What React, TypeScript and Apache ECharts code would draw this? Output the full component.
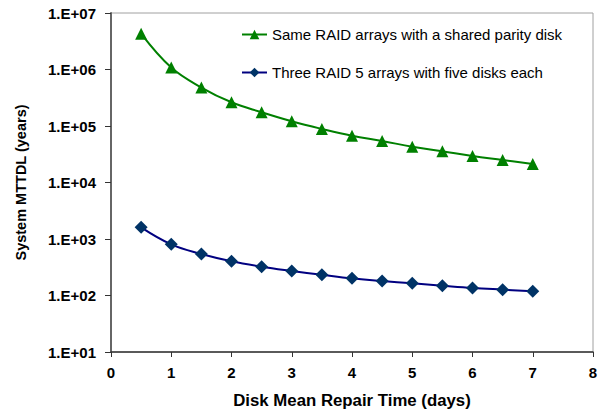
import React, { useEffect, useRef } from "react";
import * as echarts from "echarts";

const repairDays = [0.5, 1, 1.5, 2, 2.5, 3, 3.5, 4, 4.5, 5, 5.5, 6, 6.5, 7];
const sharedParity = [4300000, 1080000, 480000, 263000, 175000, 121000, 88500, 67000, 54300, 43000, 35700, 29400, 25000, 21200];
const threeRaid5 = [1610, 805, 543, 403, 323, 272, 233, 201, 181, 164, 149, 136, 127, 119];
const seriesNames = ["Same RAID arrays with a shared parity disk", "Three RAID 5 arrays with five disks each"];
const xTitle = "Disk Mean Repair Time (days)";
const yTitle = "System MTTDL (years)";

const FONT = "'Liberation Sans', Arial, sans-serif";

export default function App() {
  const ref = useRef<HTMLDivElement>(null);
  useEffect(() => {
    if (!ref.current) return;
    const chart = echarts.init(ref.current, undefined, { renderer: "svg" });
    chart.setOption({
      animation: false,
      backgroundColor: "#ffffff",
      textStyle: { fontFamily: FONT },
      grid: {
        left: 111,
        top: 13,
        right: 17,
        bottom: 62,
        show: true,
        borderColor: "#a0a0a0",
        borderWidth: 1,
        backgroundColor: "transparent",
      },
      legend: {
        orient: "vertical",
        left: 236,
        top: 22,
        itemWidth: 25,
        itemHeight: 12,
        itemGap: 23,
        textStyle: { fontFamily: FONT, fontSize: 15, color: "#000" },
        data: seriesNames,
      },
      xAxis: {
        type: "value",
        min: 0,
        max: 8,
        interval: 1,
        name: xTitle,
        nameLocation: "middle",
        nameGap: 40,
        nameTextStyle: { fontFamily: FONT, fontSize: 16.8, fontWeight: "bold", color: "#000" },
        axisLine: { show: true, onZero: false, lineStyle: { color: "#333", width: 1.5 } },
        axisTick: { show: true, length: 5, lineStyle: { color: "#333" } },
        axisLabel: { margin: 13, fontFamily: FONT, fontSize: 15, fontWeight: "bold", color: "#000" },
        splitLine: { show: false },
      },
      yAxis: {
        type: "log",
        logBase: 10,
        min: 10,
        max: 10000000,
        name: yTitle,
        nameLocation: "middle",
        nameGap: 83,
        nameTextStyle: { fontFamily: FONT, fontSize: 14.5, fontWeight: "bold", color: "#000" },
        axisLine: { show: true, lineStyle: { color: "#666", width: 2 } },
        axisTick: { show: true, length: 6, lineStyle: { color: "#333" } },
        axisLabel: {
          margin: 15,
          fontFamily: FONT,
          fontSize: 15,
          fontWeight: "bold",
          color: "#000",
          formatter: (v: number) => {
            const e = Math.round(Math.log10(v));
            return "1.E+" + String(e).padStart(2, "0");
          },
        },
        splitLine: { show: false },
        minorTick: { show: false },
      },
      series: [
        {
          name: seriesNames[0],
          type: "line",
          smooth: 0.4,
          data: repairDays.map((x, i) => [x, sharedParity[i]]),
          symbol: "triangle",
          symbolSize: 12,
          lineStyle: { color: "#008000", width: 2 },
          itemStyle: { color: "#008000" },
        },
        {
          name: seriesNames[1],
          type: "line",
          smooth: 0.4,
          data: repairDays.map((x, i) => [x, threeRaid5[i]]),
          symbol: "diamond",
          symbolSize: 13,
          lineStyle: { color: "#000080", width: 2 },
          itemStyle: { color: "#003366" },
        },
      ],
    });
    return () => chart.dispose();
  }, []);
  return (
    <div
      ref={ref}
      style={{ position: "fixed", left: 0, top: 0, width: 610, height: 414 }}
    />
  );
}
